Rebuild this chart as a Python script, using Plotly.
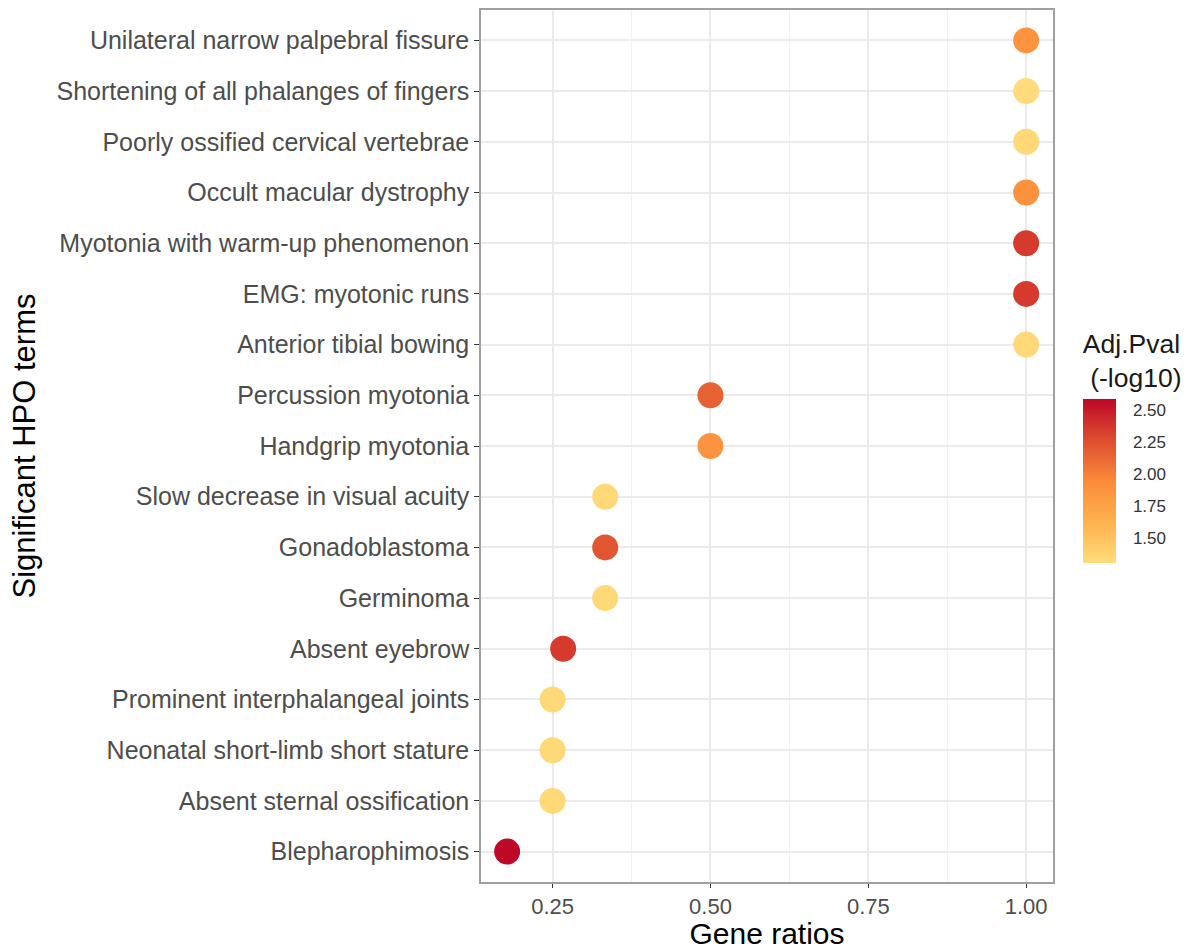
import plotly.graph_objects as go

terms = [
    "Blepharophimosis",
    "Absent sternal ossification",
    "Neonatal short-limb short stature",
    "Prominent interphalangeal joints",
    "Absent eyebrow",
    "Germinoma",
    "Gonadoblastoma",
    "Slow decrease in visual acuity",
    "Handgrip myotonia",
    "Percussion myotonia",
    "Anterior tibial bowing",
    "EMG: myotonic runs",
    "Myotonia with warm-up phenomenon",
    "Occult macular dystrophy",
    "Poorly ossified cervical vertebrae",
    "Shortening of all phalanges of fingers",
    "Unilateral narrow palpebral fissure",
]
gene_ratios = [0.178, 0.25, 0.25, 0.25, 0.2667, 0.3333, 0.3333, 0.3333,
               0.5, 0.5, 1.0, 1.0, 1.0, 1.0, 1.0, 1.0, 1.0]
adj_pval = [2.58, 1.33, 1.33, 1.33, 2.35, 1.33, 2.22, 1.33,
            1.86, 2.15, 1.33, 2.35, 2.35, 1.88, 1.33, 1.31, 1.86]

x_ticks = [0.25, 0.50, 0.75, 1.00]
x_ticklabels = ["0.25", "0.50", "0.75", "1.00"]
cbar_ticks = [1.50, 1.75, 2.00, 2.25, 2.50]
cbar_ticklabels = ["1.50", "1.75", "2.00", "2.25", "2.50"]

colorscale = [
    [0.0, "#FFDC7C"],
    [0.25, "#FEB24C"],
    [0.5, "#FB8A3A"],
    [0.78, "#D9452D"],
    [1.0, "#BF0628"],
]

FONT = "Liberation Sans, Arial, sans-serif"

fig = go.Figure()
fig.add_trace(go.Scatter(
    x=gene_ratios,
    y=terms,
    mode="markers",
    marker=dict(
        size=26,
        color=adj_pval,
        colorscale=colorscale,
        cmin=1.30,
        cmax=2.585,
        line=dict(width=0),
        colorbar=dict(
            title=dict(text="Adj.Pval<br> (-log10)", side="top",
                       font=dict(size=26.5, color="#1a1a1a", family=FONT)),
            thickness=33,
            len=233,
            lenmode="pixels",
            x=1.054,
            xanchor="left",
            xpad=0,
            y=0.3658,
            yanchor="bottom",
            ypad=0,
            outlinewidth=0,
            tickvals=cbar_ticks,
            ticktext=cbar_ticklabels,
            ticks="outside",
            ticklen=14,
            tickcolor="rgba(255,255,255,0)",
            tickfont=dict(size=17, color="#333333", family=FONT),
        ),
    ),
    showlegend=False,
    hoverinfo="x+y",
))

fig.update_layout(
    width=1192,
    height=950,
    margin=dict(l=481, r=136, t=10, b=68),
    paper_bgcolor="white",
    plot_bgcolor="white",
    font=dict(family=FONT),
    xaxis=dict(
        range=[0.1366, 1.0425],
        tickvals=x_ticks,
        ticktext=x_ticklabels,
        ticks="outside",
        ticklen=4,
        tickwidth=1.2,
        tickcolor="#333333",
        tickfont=dict(size=22, color="#4D4D4D", family=FONT),
        showgrid=True,
        gridcolor="#EBEBEB",
        gridwidth=1.5,
        minor=dict(tickvals=[0.125, 0.375, 0.625, 0.875], showgrid=True,
                   gridcolor="#F2F2F2", gridwidth=1),
        showline=True,
        linecolor="#A0A0A0",
        linewidth=1.5,
        mirror=True,
        zeroline=False,
        automargin=False,
        title=dict(text="Gene ratios", font=dict(size=30, color="#000000", family=FONT),
                   standoff=12),
    ),
    yaxis=dict(
        type="category",
        categoryorder="array",
        categoryarray=terms,
        range=[-0.6, len(terms) - 0.4],
        ticks="outside",
        ticklen=5,
        tickwidth=1.2,
        tickcolor="#333333",
        tickfont=dict(size=25, color="#4D4D4D", family=FONT),
        showgrid=True,
        gridcolor="#EBEBEB",
        gridwidth=1.5,
        showline=True,
        linecolor="#A0A0A0",
        linewidth=1.5,
        mirror=True,
        zeroline=False,
        automargin=False,
        title=dict(text="Significant HPO terms", font=dict(size=31, color="#000000", family=FONT),
                   standoff=12),
    ),
)

fig.write_html("out.html")
